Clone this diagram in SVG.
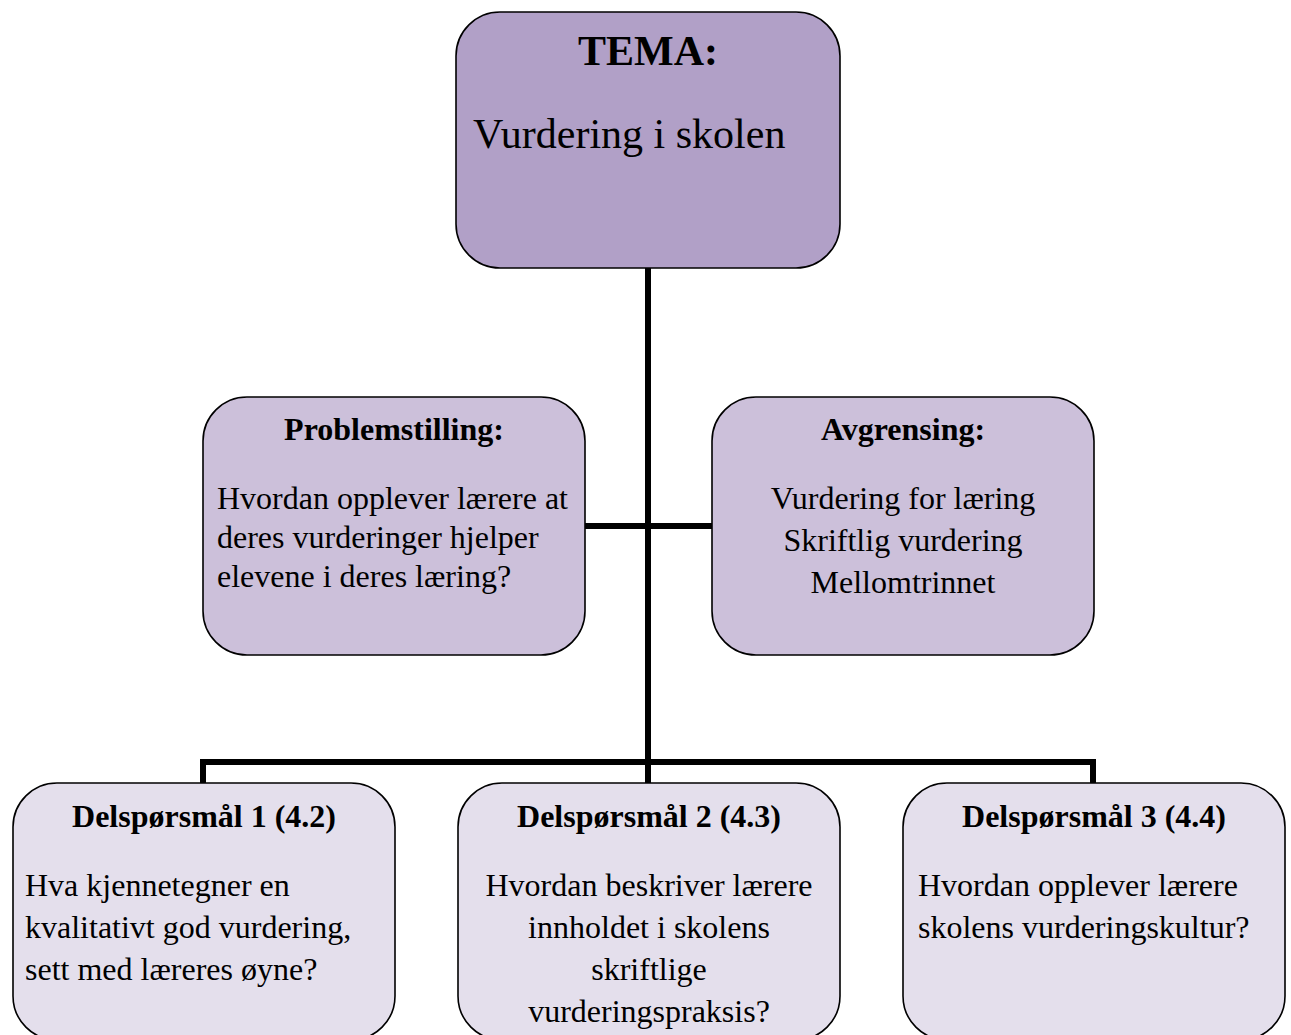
<svg xmlns="http://www.w3.org/2000/svg" width="1291" height="1035" viewBox="0 0 1291 1035">
<style>
.box{stroke:#000;stroke-width:1.6}
.l1{fill:#B1A0C7}.l2{fill:#CCC0DA}.l3{fill:#E4DFEC}
text{font-family:"Liberation Serif","Times New Roman",serif;fill:#000;font-size:32px}
.b{font-weight:bold}
.c{text-anchor:middle}
.conn{fill:none;stroke:#000;stroke-width:6;stroke-linejoin:miter;stroke-linecap:butt}
</style>
<rect width="1291" height="1035" fill="#fff"/>
<g id="connectors">
<path class="conn" d="M648 268 V783"/>
<path class="conn" d="M585 526 H712"/>
<path class="conn" d="M203 783 V762 H1093 V783"/>
</g>
<g id="tema">
<rect class="box l1" x="456" y="12" width="384" height="256" rx="44" ry="44"/>
<text class="b c" x="648" y="65" style="font-size:42px">TEMA:</text>
<text x="473" y="148" style="font-size:42px">Vurdering i skolen</text>
</g>
<g id="problemstilling">
<rect class="box l2" x="203" y="397" width="382" height="258" rx="44" ry="44"/>
<text class="b c" x="394" y="440">Problemstilling:</text>
<text x="217" y="509">Hvordan opplever lærere at</text>
<text x="217" y="548">deres vurderinger hjelper</text>
<text x="217" y="587">elevene i deres læring?</text>
</g>
<g id="avgrensing">
<rect class="box l2" x="712" y="397" width="382" height="258" rx="44" ry="44"/>
<text class="b c" x="903" y="440">Avgrensing:</text>
<text class="c" x="903" y="509">Vurdering for læring</text>
<text class="c" x="903" y="551">Skriftlig vurdering</text>
<text class="c" x="903" y="593">Mellomtrinnet</text>
</g>
<g id="delsporsmal1">
<rect class="box l3" x="13" y="783" width="382" height="257" rx="44" ry="44"/>
<text class="b c" x="204" y="827">Delspørsmål 1 (4.2)</text>
<text x="25" y="896">Hva kjennetegner en</text>
<text x="25" y="938">kvalitativt god vurdering,</text>
<text x="25" y="980">sett med læreres øyne?</text>
</g>
<g id="delsporsmal2">
<rect class="box l3" x="458" y="783" width="382" height="257" rx="44" ry="44"/>
<text class="b c" x="649" y="827">Delspørsmål 2 (4.3)</text>
<text class="c" x="649" y="896">Hvordan beskriver lærere</text>
<text class="c" x="649" y="938">innholdet i skolens</text>
<text class="c" x="649" y="980">skriftlige</text>
<text class="c" x="649" y="1022">vurderingspraksis?</text>
</g>
<g id="delsporsmal3">
<rect class="box l3" x="903" y="783" width="382" height="257" rx="44" ry="44"/>
<text class="b c" x="1094" y="827">Delspørsmål 3 (4.4)</text>
<text x="918" y="896">Hvordan opplever lærere</text>
<text x="918" y="938">skolens vurderingskultur?</text>
</g>
</svg>
